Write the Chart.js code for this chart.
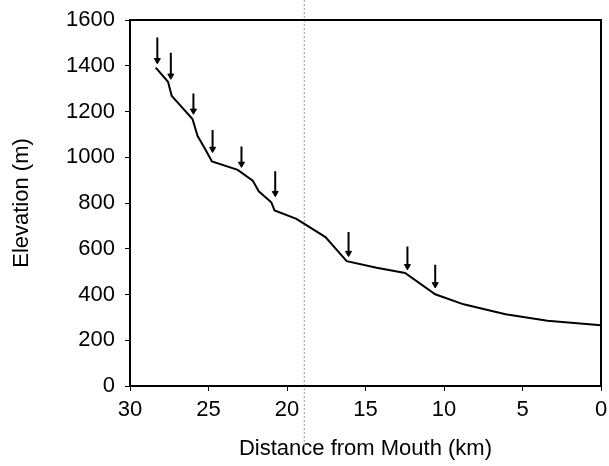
<!DOCTYPE html>
<html>
<head>
<meta charset="utf-8">
<script src="https://cdn.jsdelivr.net/npm/chart.js@4"></script>
<style>
  html, body { margin: 0; padding: 0; background: #fff; }
  #wrap { width: 609px; height: 466px; }
</style>
</head>
<body>
<div id="wrap"><canvas id="profileChart"></canvas></div>
<script>
// Longitudinal profile, distance from mouth (km) vs elevation (m)
const profileKm = [28.36, 27.58, 27.34, 26.87, 26.02, 25.70, 25.27, 24.78, 23.14, 22.18, 21.80, 21.00, 20.79, 19.40, 17.55, 16.20, 14.29, 12.48, 10.56, 8.75, 6.08, 3.41, 0];
const profileElev = [1392, 1330, 1268, 1232, 1167, 1094, 1043, 982, 945, 898, 851, 803, 767, 731, 651, 546, 517, 494, 401, 357, 314, 285, 266];

// knickpoint arrows: x position, top of shaft, arrow tip
const arrowKm = [28.26, 27.40, 25.96, 24.74, 22.90, 20.75, 16.08, 12.33, 10.56];
const arrowTop = [1523, 1457, 1279, 1119, 1047, 939, 673, 610, 530];
const arrowTip = [1424, 1356, 1203, 1036, 971, 843, 581, 523, 444];

// dotted reference line
const refKm = 18.9;

const xTicks = [30, 25, 20, 15, 10, 5, 0];
const yTicks = [0, 200, 400, 600, 800, 1000, 1200, 1400, 1600];

const FONT = 'Liberation Sans, Arial, sans-serif';

const profileData = profileKm.map((x, i) => ({ x, y: profileElev[i] }));
const arrowData = [];
arrowKm.forEach((x, i) => {
  arrowData.push({ x, y: arrowTop[i] }, { x, y: arrowTip[i] }, { x, y: null });
});

const framePlugin = {
  id: 'frame',
  beforeDatasetsDraw(chart) {
    const { ctx, scales } = chart;
    const rx = scales.x.getPixelForValue(refKm);
    ctx.save();
    ctx.strokeStyle = '#9a9a9a';
    ctx.lineWidth = 1;
    ctx.setLineDash([2, 2]);
    ctx.beginPath();
    ctx.moveTo(rx, 0);
    ctx.lineTo(rx, chart.height - 18);
    ctx.stroke();
    ctx.restore();
  },
  afterDraw(chart) {
    const { ctx, chartArea: a } = chart;
    ctx.save();
    ctx.strokeStyle = '#000';
    ctx.lineWidth = 2;
    ctx.strokeRect(a.left, a.top, a.right - a.left, a.bottom - a.top);
    ctx.restore();
  }
};

new Chart(document.getElementById('profileChart'), {
  type: 'scatter',
  data: {
    datasets: [
      {
        label: 'profile',
        data: profileData,
        showLine: true,
        borderColor: '#000',
        borderWidth: 2,
        pointRadius: 0,
        tension: 0,
      },
      {
        label: 'arrows',
        data: arrowData,
        showLine: true,
        spanGaps: false,
        borderColor: '#000',
        backgroundColor: '#000',
        borderWidth: 2,
        pointStyle: 'triangle',
        rotation: 180,
        pointRadius: ctx => (ctx.dataIndex % 3 === 1 ? 3.5 : 0),
        pointBorderWidth: 1,
      }
    ]
  },
  options: {
    responsive: true,
    maintainAspectRatio: false,
    animation: false,
    layout: { padding: { top: 20, right: 8, left: 0, bottom: 0 } },
    plugins: { legend: { display: false }, tooltip: { enabled: false } },
    scales: {
      x: {
        type: 'linear',
        reverse: true,
        min: 0, max: 30,
        afterBuildTicks: s => { s.ticks = xTicks.map(v => ({ value: v })); },
        afterFit: s => { s.height = 80; s.paddingLeft = 0; s.paddingRight = 0; },
        grid: { drawOnChartArea: false, color: '#000', tickLength: 5 },
        border: { color: '#000', width: 2 },
        ticks: { color: '#000', font: { family: FONT, size: 22 }, padding: 6, maxRotation: 0, callback: v => String(v) },
        title: { display: true, text: 'Distance from Mouth (km)', color: '#000', font: { family: FONT, size: 22 }, padding: { top: 13 } }
      },
      y: {
        min: 0, max: 1600,
        afterBuildTicks: s => { s.ticks = yTicks.map(v => ({ value: v })); },
        afterFit: s => { s.width = 130; s.paddingTop = 0; s.paddingBottom = 0; },
        grid: { drawOnChartArea: false, color: '#000', tickLength: 5 },
        border: { color: '#000', width: 2 },
        ticks: { color: '#000', font: { family: FONT, size: 22 }, padding: 10, callback: v => String(v) },
        title: { display: true, text: 'Elevation (m)', color: '#000', font: { family: FONT, size: 22 }, padding: { bottom: 0, top: 9 } }
      }
    }
  },
  plugins: [framePlugin]
});
</script>
</body>
</html>
